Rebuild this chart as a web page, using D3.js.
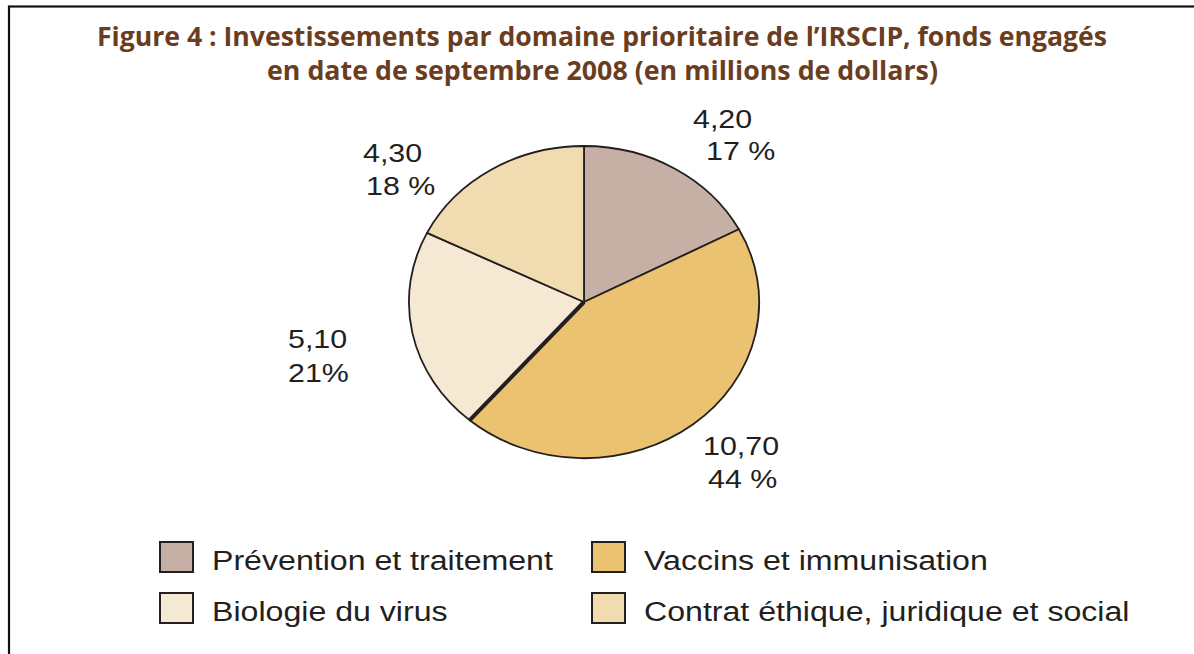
<!DOCTYPE html>
<html>
<head>
<meta charset="utf-8">
<script src="https://cdn.jsdelivr.net/npm/d3@7"></script>
<style>
  html, body { margin: 0; padding: 0; background: #ffffff; }
  svg { display: block; }
</style>
</head>
<body>
<svg id="chart" width="1194" height="654"></svg>
<script>
// ---- data ----
const categories = ["Prévention et traitement", "Vaccins et immunisation", "Biologie du virus", "Contrat éthique, juridique et social"];
const values = [4.20, 10.70, 5.10, 4.30];
const valueLabels = ["4,20", "10,70", "5,10", "4,30"];
const percentLabels = ["17 %", "44 %", "21%", "18 %"];
const colors = ["#c6b0a5", "#ebc270", "#f5e9d3", "#f1dbb0"];
const titleLines = ["Figure 4 : Investissements par domaine prioritaire de l’IRSCIP, fonds engagés",
                    "en date de septembre 2008 (en millions de dollars)"];

// ---- layout ----
const W = 1194, H = 654;
const cx = 584, cy = 302, rx = 175, ry = 156;
const labelStretch = 1.17;
const legendStretch = 1.19;
const labelPos = [ // [x line1, y line1, x line2, y line2]
  [693, 128, 706, 160],
  [703, 455, 708, 488],
  [288, 348, 288, 382],
  [363, 162, 366, 195]
];
const legendPos = [[160, 542], [592, 542], [160, 593], [592, 593]];

const svg = d3.select("#chart");

// frame
svg.append("rect").attr("x", 9).attr("y", 6.5).attr("width", 1300).attr("height", 800)
  .attr("fill", "none").attr("stroke", "#111").attr("stroke-width", 2.2);

// title
svg.selectAll("text.title").data(titleLines).join("text")
  .attr("class", "title")
  .attr("x", (d, i) => i === 0 ? 97 : 267)
  .attr("y", (d, i) => i === 0 ? 46 : 80)
  .attr("textLength", (d, i) => i === 0 ? 1010 : 671)
  .attr("lengthAdjust", "spacingAndGlyphs")
  .attr("font-family", "'Open Sans', sans-serif")
  .attr("font-weight", "bold")
  .attr("font-size", 27)
  .attr("fill", "#6b3d1f")
  .text(d => d);

// pie
const pie = d3.pie().sort(null).value(d => d);
const arcs = pie(values);
const arc = d3.arc().innerRadius(0).outerRadius(1);
const g = svg.append("g").attr("transform", `translate(${cx},${cy}) scale(${rx},${ry})`);
g.selectAll("path.slice").data(arcs).join("path")
  .attr("class", "slice")
  .attr("d", arc)
  .attr("fill", (d, i) => colors[i])
  .attr("stroke", "#231f20")
  .attr("stroke-width", 1.8)
  .attr("stroke-linejoin", "round")
  .attr("vector-effect", "non-scaling-stroke");
// heavier separator between Vaccins and Biologie
const a = arcs[1].endAngle;
g.append("line")
  .attr("x1", 0).attr("y1", 0)
  .attr("x2", Math.sin(a)).attr("y2", -Math.cos(a))
  .attr("stroke", "#231f20").attr("stroke-width", 4)
  .attr("vector-effect", "non-scaling-stroke");

// slice labels
const lab = svg.append("g");
arcs.forEach((d, i) => {
  const p = labelPos[i];
  [[valueLabels[i], p[0], p[1]], [percentLabels[i], p[2], p[3]]].forEach(t => {
    lab.append("text")
      .attr("transform", `translate(${t[1]},${t[2]}) scale(${labelStretch},1)`)
      .attr("font-family", "'Liberation Sans', Arial, sans-serif")
      .attr("font-size", 26)
      .attr("fill", "#231f20")
      .text(t[0]);
  });
});

// legend
const leg = svg.append("g");
categories.forEach((c, i) => {
  const p = legendPos[i];
  leg.append("rect").attr("x", p[0]).attr("y", p[1]).attr("width", 33).attr("height", 30)
    .attr("fill", colors[i]).attr("stroke", "#231f20").attr("stroke-width", 2);
  leg.append("text")
    .attr("transform", `translate(${p[0] + 52},${p[1] + 28}) scale(${legendStretch},1)`)
    .attr("font-family", "'Liberation Sans', Arial, sans-serif")
    .attr("font-size", 27)
    .attr("fill", "#231f20")
    .text(c);
});
</script>
</body>
</html>
